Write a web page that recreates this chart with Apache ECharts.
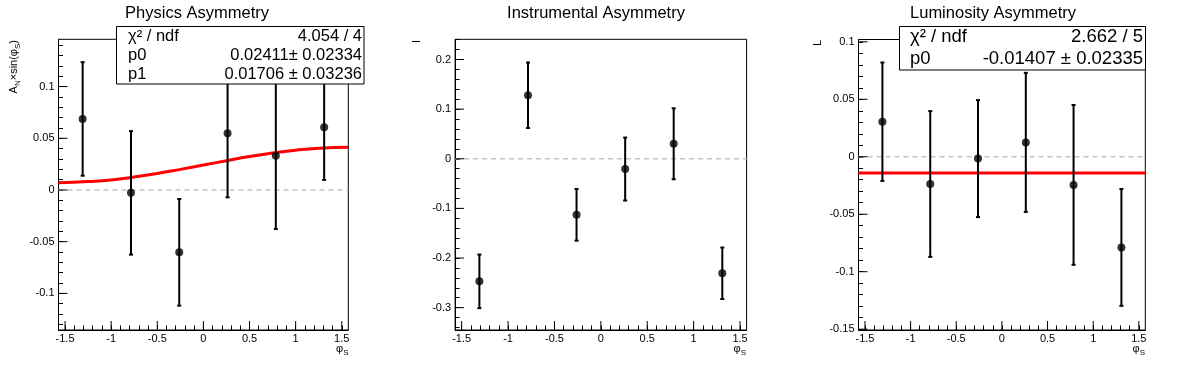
<!DOCTYPE html>
<html><head><meta charset="utf-8">
<script src="https://cdn.jsdelivr.net/npm/echarts@6/dist/echarts.min.js"></script>
<style>html,body{margin:0;padding:0;background:#fff}#c{width:1196px;height:372px}</style>
</head><body><div id="c"></div>
<script>
// ---- data ----
const xCenters = [-1.309, -0.785, -0.262, 0.262, 0.785, 1.309];
const physVal = [0.0687, -0.0028, -0.0603, 0.0548, 0.0332, 0.0606];
const physErr = [0.0549, 0.0597, 0.0516, 0.0619, 0.0709, 0.0509];
const instVal = [-0.247, 0.128, -0.113, -0.0207, 0.0302, -0.2307];
const instErr = [0.054, 0.066, 0.052, 0.0634, 0.0715, 0.0518];
const lumiVal = [0.0305, -0.0237, -0.0016, 0.0125, -0.0245, -0.0789];
const lumiErr = [0.0515, 0.0634, 0.0509, 0.0605, 0.0695, 0.0508];
const physFitX = [-1.5708, -1.25, -1.0, -0.75, -0.5, -0.25, 0, 0.25, 0.5, 0.75, 1.0, 1.25, 1.5708];
const physFitY = [0.0070, 0.0082, 0.0097, 0.0125, 0.0159, 0.0199, 0.0241, 0.0283, 0.0323, 0.0357, 0.0385, 0.0403, 0.0412];
const lumiFitX = [-1.5708, 1.5708];
const lumiFitY = [-0.01407, -0.01407];
const xTicks = [-1.5, -1, -0.5, 0, 0.5, 1, 1.5];
const physYTicks = [-0.1, -0.05, 0, 0.05, 0.1];
const instYTicks = [-0.3, -0.2, -0.1, 0, 0.1, 0.2];
const lumiYTicks = [-0.15, -0.1, -0.05, 0, 0.05, 0.1];
const titles = ['Physics Asymmetry', 'Instrumental Asymmetry', 'Luminosity Asymmetry'];
const physStatsLabels = ['χ² / ndf', 'p0', 'p1'];
const physStatsValues = ['4.054 / 4', '0.02411± 0.02334', '0.01706 ± 0.03236'];
const lumiStatsLabels = ['χ² / ndf', 'p0'];
const lumiStatsValues = ['2.662 / 5', '-0.01407 ± 0.02335'];
const yTitles = ['A{s|N}×sin(φ{s|S})', 'I', 'L'];
const xTitle = 'φ{s|S}';

// ---- layout ----
const FONT = '"Liberation Sans", Arial, Helvetica, sans-serif';
const X_MIN = -1.5708, X_MAX = 1.5708;
const MAJOR_LEN = 9;
const panels = [
  { grid: {left: 58.5, top: 39.3, width: 289.8, height: 290.7}, yMin: -0.1354, yMax: 0.1457, yTicks: physYTicks, yMinorStep: 0.01, vals: physVal, errs: physErr, fitX: physFitX, fitY: physFitY, titleX: 197 },
  { grid: {left: 455.1, top: 39.3, width: 291.5, height: 290.7}, yMin: -0.345, yMax: 0.2407, yTicks: instYTicks, yMinorStep: 0.02, vals: instVal, errs: instErr, fitX: null, fitY: null, titleX: 596 },
  { grid: {left: 858.5, top: 39.5, width: 286.8, height: 290.5}, yMin: -0.1507, yMax: 0.102, yTicks: lumiYTicks, yMinorStep: 0.01, vals: lumiVal, errs: lumiErr, fitX: lumiFitX, fitY: lumiFitY, titleX: 993 }
];

function steps(a, b, s) {
  const out = [];
  const n0 = Math.ceil(a / s - 1e-9), n1 = Math.floor(b / s + 1e-9);
  for (let n = n0; n <= n1; n++) out.push(+(n * s).toFixed(6));
  return out;
}
const xMinor = steps(-1.5, 1.5, 0.1);

const grids = [], xAxes = [], yAxes = [], series = [];
const labelStyle = {color: '#000', fontSize: 11, fontFamily: FONT};
const N_AX = 2;

function minorAxis(base, values) {
  return Object.assign({}, base, {
    axisLine: {show: false, onZero: false},
    axisTick: {show: true, inside: true, length: 4.5, customValues: values, lineStyle: {color: '#000', width: 1}},
    axisLabel: {show: false}, splitLine: {show: false}
  });
}

panels.forEach((p, i) => {
  grids.push(Object.assign({show: true, borderColor: '#000', borderWidth: 1, backgroundColor: 'transparent'}, p.grid));
  const xb = {type: 'value', gridIndex: i, min: X_MIN, max: X_MAX, position: 'bottom'};
  const yb = {type: 'value', gridIndex: i, min: p.yMin, max: p.yMax, position: 'left'};
  xAxes.push(Object.assign({}, xb, {
    axisLine: {show: true, onZero: false, lineStyle: {color: '#000', width: 1}},
    axisTick: {show: false},
    axisLabel: Object.assign({show: true, customValues: xTicks, margin: 3}, labelStyle),
    splitLine: {show: false}
  }));
  xAxes.push(minorAxis(xb, xMinor));
  yAxes.push(Object.assign({}, yb, {
    axisLine: {show: true, onZero: false, lineStyle: {color: '#000', width: 1}},
    axisTick: {show: false},
    axisLabel: Object.assign({show: true, customValues: p.yTicks, margin: 4}, labelStyle),
    splitLine: {show: false}
  }));
  yAxes.push(minorAxis(yb, steps(p.yMin, p.yMax, p.yMinorStep)));

  const xi = N_AX * i, yi = N_AX * i;
  // major tick marks, placed through the axis scales
  series.push({
    type: 'custom', xAxisIndex: xi, yAxisIndex: yi, z: 5, silent: true, clip: false,
    data: xTicks.map(v => [v, p.yMin]), encode: {x: 0, y: 1},
    renderItem: function (params, api) {
      const c = api.coord([api.value(0), api.value(1)]);
      return {type: 'line', shape: {x1: c[0], y1: c[1], x2: c[0], y2: c[1] - MAJOR_LEN}, style: {stroke: '#000', lineWidth: 1}};
    }
  });
  series.push({
    type: 'custom', xAxisIndex: xi, yAxisIndex: yi, z: 5, silent: true, clip: false,
    data: p.yTicks.map(v => [X_MIN, v]), encode: {x: 0, y: 1},
    renderItem: function (params, api) {
      const c = api.coord([api.value(0), api.value(1)]);
      return {type: 'line', shape: {x1: c[0], y1: c[1], x2: c[0] + MAJOR_LEN, y2: c[1]}, style: {stroke: '#000', lineWidth: 1}};
    }
  });
  series.push({
    type: 'line', xAxisIndex: xi, yAxisIndex: yi, data: [[X_MIN, 0], [X_MAX, 0]],
    symbol: 'none', silent: true, z: 1,
    lineStyle: {color: '#c4c4c4', width: 1.6, type: [5, 4]}
  });
  if (p.fitX) {
    series.push({
      type: 'line', xAxisIndex: xi, yAxisIndex: yi, smooth: true, symbol: 'none', z: 2,
      data: p.fitX.map((x, j) => [x, p.fitY[j]]),
      lineStyle: {color: '#ff0000', width: 3}
    });
  }
  series.push({
    type: 'custom', xAxisIndex: xi, yAxisIndex: yi, z: 3,
    data: xCenters.map((x, j) => [x, p.vals[j], p.errs[j]]),
    encode: {x: 0, y: 1},
    renderItem: function (params, api) {
      const x = api.value(0), y = api.value(1), e = api.value(2);
      const t = api.coord([x, y + e]), b = api.coord([x, y - e]);
      const st = {stroke: '#000', lineWidth: 2};
      return {type: 'group', children: [
        {type: 'line', shape: {x1: t[0], y1: t[1], x2: b[0], y2: b[1]}, style: st},
        {type: 'line', shape: {x1: t[0] - 2, y1: t[1], x2: t[0] + 2, y2: t[1]}, style: st},
        {type: 'line', shape: {x1: b[0] - 2, y1: b[1], x2: b[0] + 2, y2: b[1]}, style: st}
      ]};
    }
  });
  series.push({
    type: 'scatter', xAxisIndex: xi, yAxisIndex: yi, z: 4, symbol: 'circle', symbolSize: 8,
    itemStyle: {color: '#000'},
    data: xCenters.map((x, j) => [x, p.vals[j]])
  });
});

const graphics = [];
function statsBox(x, y, w, h, labels, values, fs, lx, rx) {
  graphics.push({type: 'rect', z: 100, shape: {x: x, y: y, width: w, height: h}, style: {fill: '#fff', stroke: '#000', lineWidth: 1}});
  const rowH = h / labels.length;
  labels.forEach((lab, k) => {
    const cy = y + rowH * (k + 0.5);
    graphics.push({type: 'text', z: 101, x: lx, y: cy, style: {text: lab, font: fs + 'px ' + FONT, fill: '#000', align: 'left', verticalAlign: 'middle'}});
    graphics.push({type: 'text', z: 101, x: rx, y: cy, style: {text: values[k], font: fs + 'px ' + FONT, fill: '#000', align: 'right', verticalAlign: 'middle'}});
  });
}
statsBox(116.5, 26.5, 247.5, 57.5, physStatsLabels, physStatsValues, 16.5, 128, 362);
statsBox(899.5, 26.5, 246, 43.5, lumiStatsLabels, lumiStatsValues, 18.5, 910, 1143);

const subRich = {
  m: {fontSize: 11, fontFamily: FONT, lineHeight: 13, verticalAlign: 'top'},
  s: {fontSize: 8, fontFamily: FONT, lineHeight: 9, padding: [9, 0, 0, 0], verticalAlign: 'bottom'}
};
function richify(t) {
  return t.split(/(\{s\|[^}]*\})/).filter(Boolean).map(s => s.startsWith('{s|') ? s : '{m|' + s + '}').join('');
}
const yTitleX = [15, 418, 819];
yTitles.forEach((t, i) => {
  graphics.push({type: 'text', z: 101, x: yTitleX[i], y: 40, rotation: Math.PI / 2,
    style: {text: richify(t), rich: subRich, fill: '#000', align: 'right', verticalAlign: 'middle'}});
});
const xTitleRight = [348.5, 746, 1145];
xTitleRight.forEach((xr) => {
  graphics.push({type: 'text', z: 101, x: xr, y: 350,
    style: {text: richify(xTitle), rich: subRich, fill: '#000', align: 'right', verticalAlign: 'middle'}});
});

const chart = echarts.init(document.getElementById('c'), null, {renderer: 'canvas'});
chart.setOption({
  animation: false,
  backgroundColor: '#fff',
  title: panels.map((p, i) => ({
    text: titles[i], left: p.titleX, top: 5, textAlign: 'center', padding: 0,
    textStyle: {fontSize: 16.5, fontWeight: 'normal', color: '#000', fontFamily: FONT}
  })),
  grid: grids,
  xAxis: xAxes,
  yAxis: yAxes,
  series: series,
  graphic: graphics
});
</script>
</body></html>
